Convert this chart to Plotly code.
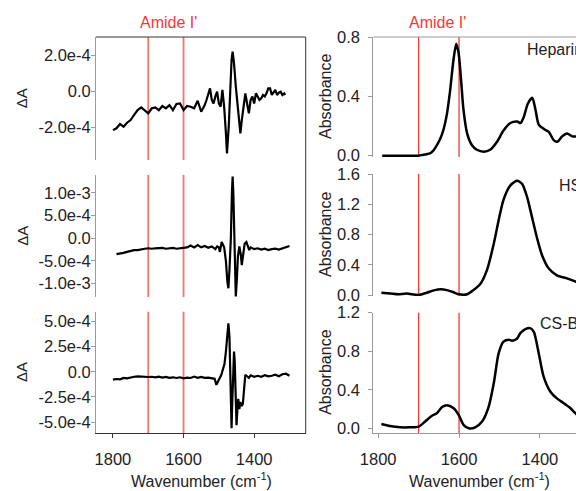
import numpy as np
import plotly.graph_objects as go

# ---- values ----
# difference spectra, delta A in units of 1e-4
hep_diff_wn = [1800, 1790, 1780, 1770, 1760, 1750, 1740, 1730, 1720, 1710, 1700, 1690, 1680, 1670, 1660,
               1650, 1640, 1630, 1620, 1610, 1600, 1590, 1580, 1570, 1560, 1550, 1540, 1535, 1530, 1525,
               1520, 1515, 1510, 1505, 1500, 1495, 1490, 1485, 1480, 1477, 1472, 1468, 1464, 1461, 1457,
               1452, 1447, 1443, 1439, 1435, 1430, 1425, 1420, 1415, 1410, 1405, 1400, 1395, 1390, 1385,
               1380, 1375, 1370, 1365, 1360, 1355, 1350, 1345, 1340, 1335, 1330, 1325, 1320, 1315, 1312]
hep_diff = [-2.17, -2.07, -1.83, -1.98, -1.76, -1.61, -1.33, -1.06, -0.91, -1.09, -1.24, -0.96, -0.91, -1.06, -0.83,
            -0.96, -0.78, -1.06, -0.72, -0.69, -1.06, -0.83, -0.87, -0.96, -0.54, -1.15, -0.78, -0.50, -0.13, 0.15,
            -0.50, -0.69, -0.31, -0.04, -0.69, -0.87, 0.06, -0.87, -2.35, -3.46, -1.98, 0.24, 1.72, 2.19, 1.54,
            0.24, -0.69, -1.43, -2.35, -1.61, -0.69, -0.13, -0.69, -1.24, -0.50, -0.31, -0.69, -0.13, -0.31, -0.50,
            -0.41, -0.22, -0.31, -0.13, 0.15, 0.15, -0.22, -0.04, 0.06, -0.22, -0.09, -0.04, -0.22, -0.13, -0.22]

hs_diff_wn = [1790, 1780, 1770, 1760, 1750, 1740, 1730, 1720, 1710, 1700, 1690, 1680, 1670, 1660, 1650,
              1640, 1630, 1620, 1610, 1600, 1590, 1580, 1570, 1560, 1550, 1540, 1530, 1520, 1510, 1505,
              1500, 1497, 1492, 1485, 1480, 1476, 1473, 1470, 1466, 1463, 1461, 1459, 1457, 1455, 1452,
              1449, 1446, 1442, 1438, 1435, 1431, 1427, 1422, 1418, 1414, 1410, 1400, 1390, 1380, 1370,
              1360, 1350, 1340, 1330, 1320, 1310, 1300]
hs_diff = [-3.5, -3.4, -3.2, -3.0, -2.8, -2.6, -2.6, -2.4, -2.3, -2.2, -2.3, -2.2, -2.2, -2.1, -2.3,
           -2.2, -2.1, -2.3, -2.2, -2.1, -2.0, -1.6, -2.0, -1.5, -2.0, -1.7, -2.1, -1.8, -2.4, -1.8,
           -2.0, -3.0, -0.8, -2.0, -5.0, -9.5, -11.0, -7.0, 0.0, 10.0, 13.6, 10.0, 2.0, -5.0, -12.8,
           -9.0, -4.0, -1.8, -3.5, -5.9, -3.5, -1.2, -0.8, -1.5, -2.6, -2.0, -2.4, -2.2, -2.5, -2.3,
           -2.6, -2.4, -2.3, -2.5, -2.2, -1.9, -1.7]

csb_diff_wn = [1800, 1790, 1780, 1770, 1760, 1750, 1740, 1730, 1720, 1710, 1700, 1690, 1680, 1670, 1660,
               1650, 1640, 1630, 1620, 1610, 1600, 1590, 1580, 1570, 1560, 1550, 1540, 1530, 1520, 1512,
               1507, 1503, 1498, 1493, 1488, 1484, 1480, 1476, 1473, 1470, 1468, 1466, 1464, 1462, 1460,
               1457, 1455, 1452, 1450, 1447, 1445, 1442, 1439, 1436, 1432, 1428, 1425, 1420, 1415, 1410,
               1400, 1390, 1380, 1370, 1360, 1350, 1340, 1330, 1320, 1310, 1300]
csb_diff = [-0.79, -0.72, -0.75, -0.62, -0.66, -0.55, -0.50, -0.46, -0.50, -0.48, -0.52, -0.50, -0.55, -0.48, -0.58,
            -0.52, -0.60, -0.55, -0.62, -0.55, -0.65, -0.58, -0.62, -0.48, -0.60, -0.52, -0.60, -0.58, -0.62, -0.70,
            -1.30, -1.00, -0.60, -0.30, 0.30, 0.80, 2.00, 4.00, 4.80, 3.50, -1.00, -4.00, -5.60, -3.00, 0.50,
            2.00, 1.00, -2.50, -5.30, -3.50, -2.70, -3.70, -3.00, -3.40, -3.20, -1.50, -0.30, -0.45, -0.60, -0.35,
            -0.50, -0.40, -0.50, -0.35, -0.45, -0.40, -0.30, -0.45, -0.25, -0.20, -0.40]

# absorbance spectra
hep_abs_wn = [1790, 1780, 1760, 1740, 1720, 1700, 1690, 1680, 1672, 1665, 1655, 1647, 1639, 1630, 1622,
              1614, 1607, 1601, 1595, 1589, 1580, 1568, 1556, 1539, 1523, 1506, 1490, 1473, 1456, 1448,
              1440, 1430, 1419, 1411, 1403, 1390, 1378, 1366, 1357, 1345, 1333, 1320, 1308, 1296]
hep_abs = [0.0, 0.0, 0.0, 0.0, 0.0, 0.0, 0.005, 0.01, 0.015, 0.03, 0.07, 0.11, 0.17, 0.28, 0.44,
           0.64, 0.755, 0.69, 0.51, 0.31, 0.15, 0.07, 0.04, 0.027, 0.04, 0.094, 0.17, 0.22, 0.23, 0.22,
           0.26, 0.35, 0.39, 0.31, 0.21, 0.18, 0.16, 0.105, 0.094, 0.13, 0.15, 0.13, 0.13, 0.14]

hs_abs_wn = [1792, 1770, 1750, 1730, 1700, 1680, 1660, 1645, 1630, 1615, 1601, 1580, 1564, 1547, 1531,
             1514, 1502, 1490, 1473, 1457, 1444, 1432, 1420, 1407, 1395, 1378, 1358, 1333, 1313, 1296]
hs_abs = [0.03, 0.02, 0.01, 0.02, 0.0, 0.03, 0.065, 0.075, 0.065, 0.04, 0.01, 0.01, 0.066, 0.15, 0.33,
          0.68, 0.99, 1.26, 1.45, 1.51, 1.47, 1.30, 1.04, 0.75, 0.53, 0.35, 0.26, 0.22, 0.18, 0.13]

csb_abs_wn = [1792, 1771, 1746, 1721, 1700, 1684, 1667, 1655, 1642, 1630, 1614, 1601, 1589, 1576, 1560,
              1543, 1527, 1514, 1502, 1490, 1477, 1469, 1457, 1448, 1436, 1424, 1415, 1403, 1391, 1374,
              1358, 1341, 1325, 1308, 1296]
csb_abs = [0.045, 0.024, 0.01, 0.01, 0.017, 0.07, 0.13, 0.155, 0.22, 0.24, 0.21, 0.14, 0.035, 0.0, 0.01,
           0.07, 0.22, 0.47, 0.78, 0.90, 0.92, 0.91, 0.93, 0.99, 1.03, 1.04, 1.00, 0.78, 0.54, 0.38,
           0.31, 0.26, 0.21, 0.14, 0.12]

sample_names = ['Heparin', 'HS', 'CS-B']
amide_band = [1700, 1600]
x_tickvals = [1800, 1600, 1400]
diff_tickvals = [[-2e-4, 0, 2e-4],
                 [-1e-3, -5e-4, 0, 5e-4, 1e-3],
                 [-5e-4, -2.5e-4, 0, 2.5e-4, 5e-4]]
diff_ticktext = [['-2.0e-4', '0.0', '2.0e-4'],
                 ['-1.0e-3', '-5.0e-4', '0.0', '5.0e-4', '1.0e-3'],
                 ['-5.0e-4', '-2.5e-4', '0.0', '2.5e-4', '5.0e-4']]
abs_tickvals = [[0, 0.4, 0.8], [0, 0.4, 0.8, 1.2, 1.6], [0, 0.4, 0.8, 1.2]]

# the page body has an 8px margin, so the figure is shrunk by that much
OFF = 8
W, H = 584 - OFF, 491 - OFF
FONT = "Arial, 'Liberation Sans', sans-serif"
TXT = '#222222'
AX_GREY = '#9a9a9a'
FRAME = '#333333'
TICK_SIZE = 16.5


def px(x):
    return (x - OFF) / W


def py(y):
    return 1 - (y - OFF) / H


diff_x = [hep_diff_wn, hs_diff_wn, csb_diff_wn]
diff_y = [hep_diff, hs_diff, csb_diff]
abs_x = [hep_abs_wn, hs_abs_wn, csb_abs_wn]
abs_y = [hep_abs, hs_abs, csb_abs]

left_rows = [(37, 160), (175, 297), (311.7, 433)]
right_rows = [(37, 157), (174, 296), (312.7, 433)]
diff_ranges = [[-3.83e-4, 3.0e-4], [-1.293e-3, 1.394e-3], [-6.08e-4, 5.96e-4]]
abs_ranges = [[-0.009, 0.8], [-0.013, 1.6], [-0.049, 1.2]]

fig = go.Figure()
layout = dict(template='none', width=W, height=H, margin=dict(l=0, r=0, t=0, b=0, pad=0, autoexpand=False),
              paper_bgcolor='white', plot_bgcolor='rgba(0,0,0,0)',
              showlegend=False, font=dict(family=FONT, size=16, color=TXT))
shapes = []
annotations = []


def note(text, x, y, **kw):
    d = dict(text=text, x=px(x), y=py(y), xref='paper', yref='paper', xanchor='center',
             yanchor='middle', showarrow=False)
    d.update(kw)
    annotations.append(d)


for r in range(3):
    for c in range(2):
        k = r * 2 + c + 1
        xa = 'x' if k == 1 else f'x{k}'
        ya = 'y' if k == 1 else f'y{k}'
        bottom = (r == 2)
        if c == 0:
            xs, ys = diff_x[r], np.array(diff_y[r]) * 1e-4
            top, bot = left_rows[r]
            xdom = [px(96), px(305.7)]
            xrange = [1848, 1254]
            yrange = diff_ranges[r]
            tv, tt = diff_tickvals[r], diff_ticktext[r]
            shape_line = 'linear'
            xline = FRAME
            red = '#f2766c'
            rw = 1.8
            standoff = -3
            lw = 2.2
        else:
            xs, ys = abs_x[r], abs_y[r]
            top, bot = right_rows[r]
            xdom = [px(373.3), 1.0]
            xrange = [1812, 1291]
            yrange = abs_ranges[r]
            tv = abs_tickvals[r]
            tt = [f'{v:.1f}' for v in tv]
            shape_line = 'spline'
            xline = AX_GREY
            red = '#ee3b3b'
            rw = 1.3
            standoff = 5
            lw = 2.5

        fig.add_trace(go.Scatter(x=xs, y=ys, mode='lines', xaxis=xa, yaxis=ya,
                                 line=dict(color='black', width=lw, shape=shape_line, smoothing=0.7),
                                 hoverinfo='skip'))

        layout['xaxis' if k == 1 else f'xaxis{k}'] = dict(
            domain=xdom, range=xrange, anchor=ya, showgrid=False, zeroline=False, automargin=False,
            showline=bottom, linecolor=xline, linewidth=1,
            ticks='outside' if bottom else '', ticklen=4, tickcolor=xline,
            tickvals=x_tickvals, showticklabels=bottom, ticklabelstandoff=7,
            tickfont=dict(size=TICK_SIZE, color=TXT))
        layout['yaxis' if k == 1 else f'yaxis{k}'] = dict(
            domain=[py(bot), py(top)], range=yrange, anchor=xa, showgrid=False, zeroline=False,
            automargin=False, showline=True, linecolor=AX_GREY, linewidth=1,
            ticks='outside', ticklen=4, tickcolor=AX_GREY,
            tickvals=tv, ticktext=tt, ticklabelstandoff=standoff,
            tickfont=dict(size=TICK_SIZE, color=TXT))

        for wn in amide_band:
            shapes.append(dict(type='line', xref=xa, yref=f'{ya} domain', x0=wn, x1=wn, y0=0, y1=1,
                               line=dict(color=red, width=rw), layer='below'))

        if c == 0:
            note('ΔA', 21.7, (top + bot) / 2, textangle=-90, font=dict(size=15, color=TXT))
        else:
            note('Absorbance', 326, (top + bot) / 2, textangle=-90, font=dict(size=16, color=TXT))

# frame around the left column, top line of right column
shapes.append(dict(type='line', xref='paper', yref='paper', x0=px(96), x1=px(305.7), y0=py(37), y1=py(37),
                   line=dict(color=FRAME, width=1)))
shapes.append(dict(type='line', xref='paper', yref='paper', x0=px(305.7), x1=px(305.7), y0=py(37), y1=py(433),
                   line=dict(color=FRAME, width=1)))
shapes.append(dict(type='line', xref='paper', yref='paper', x0=px(373.3), x1=1.0, y0=py(37), y1=py(37),
                   line=dict(color=AX_GREY, width=1)))

for xc in [168, 437]:
    note("Amide I'", xc, 23, font=dict(size=16, color='#f03a3a'))
for xc in [201, 479]:
    note('Wavenumber (cm<sup>-1</sup>)', xc, 480, font=dict(size=16, color=TXT))
for name, xl, yc in zip(sample_names, [525, 557, 538], [50, 185, 323]):
    note(name, xl, yc, xanchor='left', font=dict(size=16, color=TXT))

layout['shapes'] = shapes
layout['annotations'] = annotations
fig.update_layout(**layout)
fig.write_html("out.html")
